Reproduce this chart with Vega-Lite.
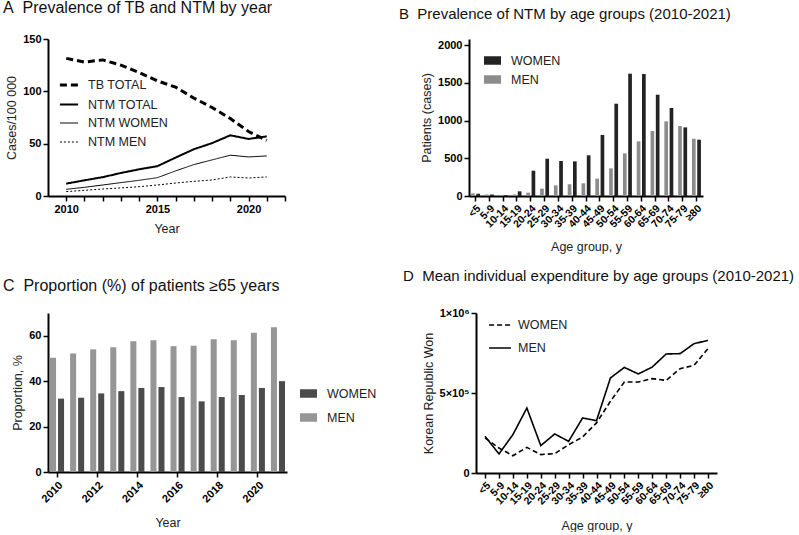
{
  "$schema": "https://vega.github.io/schema/vega-lite/v6.json",
  "padding": {"left": 3, "top": 0, "right": 0, "bottom": 0},
  "background": "white",
  "config": {
    "font": "Liberation Sans",
    "view": {"stroke": null},
    "axis": {
      "grid": false,
      "domainColor": "black",
      "domainWidth": 2,
      "tickColor": "black",
      "tickWidth": 1.5,
      "tickSize": 5,
      "labelFont": "Liberation Sans",
      "labelFontWeight": "bold",
      "labelFontSize": 11,
      "labelColor": "black",
      "titleFont": "Liberation Sans",
      "titleFontWeight": "normal",
      "titleFontSize": 12.5,
      "titleColor": "#222"
    },
    "legend": {
      "labelFont": "Liberation Sans",
      "labelFontSize": 12.5,
      "labelColor": "#222",
      "title": null
    },
    "title": {
      "font": "Liberation Sans",
      "fontSize": 16,
      "fontWeight": "normal",
      "color": "#111",
      "anchor": "start",
      "frame": "group"
    }
  },
  "spacing": 16,
  "resolve": {
    "scale": {"color": "independent", "strokeDash": "independent", "strokeWidth": "independent", "xOffset": "independent"},
    "legend": {"color": "independent", "strokeDash": "independent", "strokeWidth": "independent"}
  },
  "vconcat": [
    {
      "spacing": 113,
      "resolve": {
        "scale": {"color": "independent", "strokeDash": "independent", "strokeWidth": "independent", "xOffset": "independent"},
        "legend": {"color": "independent", "strokeDash": "independent", "strokeWidth": "independent"}
      },
      "hconcat": [
        {
          "width": 237,
          "height": 157,
          "title": {"text": "A\u00a0\u00a0Prevalence of TB and NTM by year", "dx": -45, "offset": 17},
          "data": {"values": [
            {"year": 2010, "series": "TB TOTAL", "value": 131.5},
            {"year": 2011, "series": "TB TOTAL", "value": 128},
            {"year": 2012, "series": "TB TOTAL", "value": 130},
            {"year": 2013, "series": "TB TOTAL", "value": 125},
            {"year": 2014, "series": "TB TOTAL", "value": 118},
            {"year": 2015, "series": "TB TOTAL", "value": 110},
            {"year": 2016, "series": "TB TOTAL", "value": 104},
            {"year": 2017, "series": "TB TOTAL", "value": 93.5},
            {"year": 2018, "series": "TB TOTAL", "value": 84.6},
            {"year": 2019, "series": "TB TOTAL", "value": 74},
            {"year": 2020, "series": "TB TOTAL", "value": 61.6},
            {"year": 2021, "series": "TB TOTAL", "value": 53},
            {"year": 2010, "series": "NTM TOTAL", "value": 11.8},
            {"year": 2011, "series": "NTM TOTAL", "value": 15},
            {"year": 2012, "series": "NTM TOTAL", "value": 18},
            {"year": 2013, "series": "NTM TOTAL", "value": 22},
            {"year": 2014, "series": "NTM TOTAL", "value": 25.5},
            {"year": 2015, "series": "NTM TOTAL", "value": 28.5},
            {"year": 2016, "series": "NTM TOTAL", "value": 36.7},
            {"year": 2017, "series": "NTM TOTAL", "value": 44.7},
            {"year": 2018, "series": "NTM TOTAL", "value": 50.5},
            {"year": 2019, "series": "NTM TOTAL", "value": 58},
            {"year": 2020, "series": "NTM TOTAL", "value": 54.5},
            {"year": 2021, "series": "NTM TOTAL", "value": 57},
            {"year": 2010, "series": "NTM WOMEN", "value": 6.4},
            {"year": 2011, "series": "NTM WOMEN", "value": 8.3},
            {"year": 2012, "series": "NTM WOMEN", "value": 10.5},
            {"year": 2013, "series": "NTM WOMEN", "value": 12.8},
            {"year": 2014, "series": "NTM WOMEN", "value": 15},
            {"year": 2015, "series": "NTM WOMEN", "value": 17.5},
            {"year": 2016, "series": "NTM WOMEN", "value": 24},
            {"year": 2017, "series": "NTM WOMEN", "value": 30},
            {"year": 2018, "series": "NTM WOMEN", "value": 34.5},
            {"year": 2019, "series": "NTM WOMEN", "value": 39},
            {"year": 2020, "series": "NTM WOMEN", "value": 37.3},
            {"year": 2021, "series": "NTM WOMEN", "value": 38.3},
            {"year": 2010, "series": "NTM MEN", "value": 4.2},
            {"year": 2011, "series": "NTM MEN", "value": 5.4},
            {"year": 2012, "series": "NTM MEN", "value": 6.7},
            {"year": 2013, "series": "NTM MEN", "value": 7.7},
            {"year": 2014, "series": "NTM MEN", "value": 8.9},
            {"year": 2015, "series": "NTM MEN", "value": 10.5},
            {"year": 2016, "series": "NTM MEN", "value": 12.4},
            {"year": 2017, "series": "NTM MEN", "value": 14},
            {"year": 2018, "series": "NTM MEN", "value": 15.3},
            {"year": 2019, "series": "NTM MEN", "value": 18.2},
            {"year": 2020, "series": "NTM MEN", "value": 17.2},
            {"year": 2021, "series": "NTM MEN", "value": 18.2}
          ]},
          "mark": {"type": "line", "color": "black"},
          "encoding": {
            "x": {"field": "year", "type": "quantitative",
              "scale": {"domain": [2009, 2022], "nice": false, "zero": false},
              "axis": {"title": "Year", "values": [2010, 2011, 2012, 2013, 2014, 2015, 2016, 2017, 2018, 2019, 2020, 2021, 2022],
                "labelExpr": "datum.value % 5 == 0 ? datum.value : ''", "titlePadding": 8}},
            "y": {"field": "value", "type": "quantitative",
              "scale": {"domain": [0, 150], "nice": false},
              "axis": {"title": "Cases/100 000", "values": [0, 50, 100, 150]}},
            "strokeDash": {"field": "series", "type": "nominal",
              "scale": {"domain": ["TB TOTAL", "NTM TOTAL", "NTM WOMEN", "NTM MEN"], "range": [[7, 4], [1, 0], [1, 0], [2, 2]]},
              "legend": {"orient": "none", "legendX": 10, "legendY": 35, "symbolType": "stroke", "symbolSize": 330, "symbolStrokeColor": "black", "rowPadding": 2, "labelOffset": 8}},
            "strokeWidth": {"field": "series", "type": "nominal",
              "scale": {"type": "ordinal", "domain": ["TB TOTAL", "NTM TOTAL", "NTM WOMEN", "NTM MEN"], "range": [3, 2, 1, 1]}}
          }
        },
        {
          "width": 234,
          "height": 157,
          "title": {"text": "B\u00a0\u00a0Prevalence of NTM by age groups (2010-2021)", "dx": -70, "offset": 17, "fontSize": 15},
          "data": {"values": [
            {"age": "<5", "sex": "MEN", "n": 35}, {"age": "<5", "sex": "WOMEN", "n": 30},
            {"age": "5-9", "sex": "MEN", "n": 20}, {"age": "5-9", "sex": "WOMEN", "n": 20},
            {"age": "10-14", "sex": "MEN", "n": 10}, {"age": "10-14", "sex": "WOMEN", "n": 10},
            {"age": "15-19", "sex": "MEN", "n": 20}, {"age": "15-19", "sex": "WOMEN", "n": 62},
            {"age": "20-24", "sex": "MEN", "n": 44}, {"age": "20-24", "sex": "WOMEN", "n": 335},
            {"age": "25-29", "sex": "MEN", "n": 97}, {"age": "25-29", "sex": "WOMEN", "n": 494},
            {"age": "30-34", "sex": "MEN", "n": 141}, {"age": "30-34", "sex": "WOMEN", "n": 464},
            {"age": "35-39", "sex": "MEN", "n": 155}, {"age": "35-39", "sex": "WOMEN", "n": 459},
            {"age": "40-44", "sex": "MEN", "n": 168}, {"age": "40-44", "sex": "WOMEN", "n": 539},
            {"age": "45-49", "sex": "MEN", "n": 230}, {"age": "45-49", "sex": "WOMEN", "n": 808},
            {"age": "50-54", "sex": "MEN", "n": 366}, {"age": "50-54", "sex": "WOMEN", "n": 1223},
            {"age": "55-59", "sex": "MEN", "n": 565}, {"age": "55-59", "sex": "WOMEN", "n": 1620},
            {"age": "60-64", "sex": "MEN", "n": 724}, {"age": "60-64", "sex": "WOMEN", "n": 1616},
            {"age": "65-69", "sex": "MEN", "n": 861}, {"age": "65-69", "sex": "WOMEN", "n": 1342},
            {"age": "70-74", "sex": "MEN", "n": 989}, {"age": "70-74", "sex": "WOMEN", "n": 1166},
            {"age": "75-79", "sex": "MEN", "n": 927}, {"age": "75-79", "sex": "WOMEN", "n": 909},
            {"age": "≥80", "sex": "MEN", "n": 759}, {"age": "≥80", "sex": "WOMEN", "n": 746}
          ]},
          "mark": {"type": "bar"},
          "encoding": {
            "x": {"field": "age", "type": "nominal", "sort": null,
              "scale": {"paddingInner": 0.35, "paddingOuter": 0.15},
              "axis": {"title": "Age group, y", "labelAngle": -45, "labelFontSize": 10.5, "labelPadding": 2, "titlePadding": 11}},
            "xOffset": {"field": "sex", "type": "nominal", "sort": ["MEN", "WOMEN"], "scale": {"paddingInner": 0.3}},
            "y": {"field": "n", "type": "quantitative",
              "scale": {"domain": [0, 2080], "nice": false},
              "axis": {"title": "Patients (cases)", "values": [0, 500, 1000, 1500, 2000], "format": "d"}},
            "color": {"field": "sex", "type": "nominal",
              "scale": {"domain": ["WOMEN", "MEN"], "range": ["#232323", "#8c8c8c"]},
              "legend": {"orient": "none", "legendX": 15, "legendY": 13, "symbolType": "M-1,-0.5H1V0.5H-1Z", "symbolSize": 289, "symbolStrokeWidth": 0, "rowPadding": 4, "labelOffset": 10}}
          }
        }
      ]
    },
    {
      "spacing": 26,
      "resolve": {
        "scale": {"color": "independent", "strokeDash": "independent", "strokeWidth": "independent", "xOffset": "independent"},
        "legend": {"color": "independent", "strokeDash": "independent", "strokeWidth": "independent"}
      },
      "hconcat": [
        {
          "width": 239,
          "height": 159,
          "title": {"text": "C\u00a0\u00a0Proportion (%) of patients ≥65 years", "dx": -45, "offset": 19},
          "data": {"values": [
            {"year": "2010", "sex": "MEN", "p": 50.3}, {"year": "2010", "sex": "WOMEN", "p": 32.3},
            {"year": "2011", "sex": "MEN", "p": 52.2}, {"year": "2011", "sex": "WOMEN", "p": 32.7},
            {"year": "2012", "sex": "MEN", "p": 54}, {"year": "2012", "sex": "WOMEN", "p": 34.6},
            {"year": "2013", "sex": "MEN", "p": 54.9}, {"year": "2013", "sex": "WOMEN", "p": 35.6},
            {"year": "2014", "sex": "MEN", "p": 57.6}, {"year": "2014", "sex": "WOMEN", "p": 37},
            {"year": "2015", "sex": "MEN", "p": 58}, {"year": "2015", "sex": "WOMEN", "p": 37.4},
            {"year": "2016", "sex": "MEN", "p": 55.4}, {"year": "2016", "sex": "WOMEN", "p": 33},
            {"year": "2017", "sex": "MEN", "p": 55.6}, {"year": "2017", "sex": "WOMEN", "p": 31.1},
            {"year": "2018", "sex": "MEN", "p": 58.4}, {"year": "2018", "sex": "WOMEN", "p": 33},
            {"year": "2019", "sex": "MEN", "p": 58}, {"year": "2019", "sex": "WOMEN", "p": 33.9},
            {"year": "2020", "sex": "MEN", "p": 61.3}, {"year": "2020", "sex": "WOMEN", "p": 37},
            {"year": "2021", "sex": "MEN", "p": 63.7}, {"year": "2021", "sex": "WOMEN", "p": 40}
          ]},
          "mark": {"type": "bar"},
          "encoding": {
            "x": {"field": "year", "type": "ordinal",
              "scale": {"paddingInner": 0.3, "paddingOuter": 0.1},
              "axis": {"title": "Year", "labelAngle": -45, "values": ["2010", "2012", "2014", "2016", "2018", "2020"], "labelPadding": 2, "titlePadding": 12}},
            "xOffset": {"field": "sex", "type": "nominal", "sort": ["MEN", "WOMEN"], "scale": {"paddingInner": 0.25}},
            "y": {"field": "p", "type": "quantitative",
              "scale": {"domain": [0, 70], "nice": false},
              "axis": {"title": "Proportion, %", "values": [0, 20, 40, 60]}},
            "color": {"field": "sex", "type": "nominal",
              "scale": {"domain": ["WOMEN", "MEN"], "range": ["#4b4b4b", "#969696"]},
              "legend": {"orient": "none", "legendX": 252, "legendY": 72, "symbolType": "M-1,-0.5H1V0.5H-1Z", "symbolSize": 289, "symbolStrokeWidth": 0, "rowPadding": 9, "labelOffset": 10}}
          }
        },
        {
          "width": 241,
          "height": 160,
          "title": {"text": "D\u00a0\u00a0Mean individual expenditure by age groups (2010-2021)", "dx": -73, "offset": 23, "fontSize": 15},
          "data": {"values": [
            {"age": "<5", "sex": "WOMEN", "v": 219000}, {"age": "<5", "sex": "MEN", "v": 229000},
            {"age": "5-9", "sex": "WOMEN", "v": 156000}, {"age": "5-9", "sex": "MEN", "v": 119000},
            {"age": "10-14", "sex": "WOMEN", "v": 108000}, {"age": "10-14", "sex": "MEN", "v": 240000},
            {"age": "15-19", "sex": "WOMEN", "v": 160000}, {"age": "15-19", "sex": "MEN", "v": 406000},
            {"age": "20-24", "sex": "WOMEN", "v": 115000}, {"age": "20-24", "sex": "MEN", "v": 171000},
            {"age": "25-29", "sex": "WOMEN", "v": 121000}, {"age": "25-29", "sex": "MEN", "v": 244000},
            {"age": "30-34", "sex": "WOMEN", "v": 177000}, {"age": "30-34", "sex": "MEN", "v": 198000},
            {"age": "35-39", "sex": "WOMEN", "v": 225000}, {"age": "35-39", "sex": "MEN", "v": 344000},
            {"age": "40-44", "sex": "WOMEN", "v": 313000}, {"age": "40-44", "sex": "MEN", "v": 327000},
            {"age": "45-49", "sex": "WOMEN", "v": 448000}, {"age": "45-49", "sex": "MEN", "v": 594000},
            {"age": "50-54", "sex": "WOMEN", "v": 569000}, {"age": "50-54", "sex": "MEN", "v": 660000},
            {"age": "55-59", "sex": "WOMEN", "v": 569000}, {"age": "55-59", "sex": "MEN", "v": 619000},
            {"age": "60-64", "sex": "WOMEN", "v": 590000}, {"age": "60-64", "sex": "MEN", "v": 662000},
            {"age": "65-69", "sex": "WOMEN", "v": 579000}, {"age": "65-69", "sex": "MEN", "v": 744000},
            {"age": "70-74", "sex": "WOMEN", "v": 652000}, {"age": "70-74", "sex": "MEN", "v": 746000},
            {"age": "75-79", "sex": "WOMEN", "v": 673000}, {"age": "75-79", "sex": "MEN", "v": 808000},
            {"age": "≥80", "sex": "WOMEN", "v": 777000}, {"age": "≥80", "sex": "MEN", "v": 829000}
          ]},
          "mark": {"type": "line", "color": "black", "strokeWidth": 1.6},
          "encoding": {
            "x": {"field": "age", "type": "ordinal", "sort": null,
              "scale": {"type": "point", "padding": 0.65},
              "axis": {"title": "Age group, y", "labelAngle": -45, "labelFontSize": 10.5, "labelPadding": 2, "titlePadding": 13}},
            "y": {"field": "v", "type": "quantitative",
              "scale": {"domain": [0, 1000000], "nice": false},
              "axis": {"title": "Korean Republic Won", "values": [0, 500000, 1000000],
                "labelExpr": "datum.value == 0 ? '0' : (datum.value == 500000 ? '5×10⁵' : '1×10⁶')"}},
            "strokeDash": {"field": "sex", "type": "nominal",
              "scale": {"domain": ["WOMEN", "MEN"], "range": [[5, 3], [1, 0]]},
              "legend": {"orient": "none", "legendX": 12, "legendY": 0, "symbolType": "stroke", "symbolSize": 480, "symbolStrokeColor": "black", "symbolStrokeWidth": 1.6, "rowPadding": 4, "labelOffset": 6}}
          }
        }
      ]
    }
  ]
}
